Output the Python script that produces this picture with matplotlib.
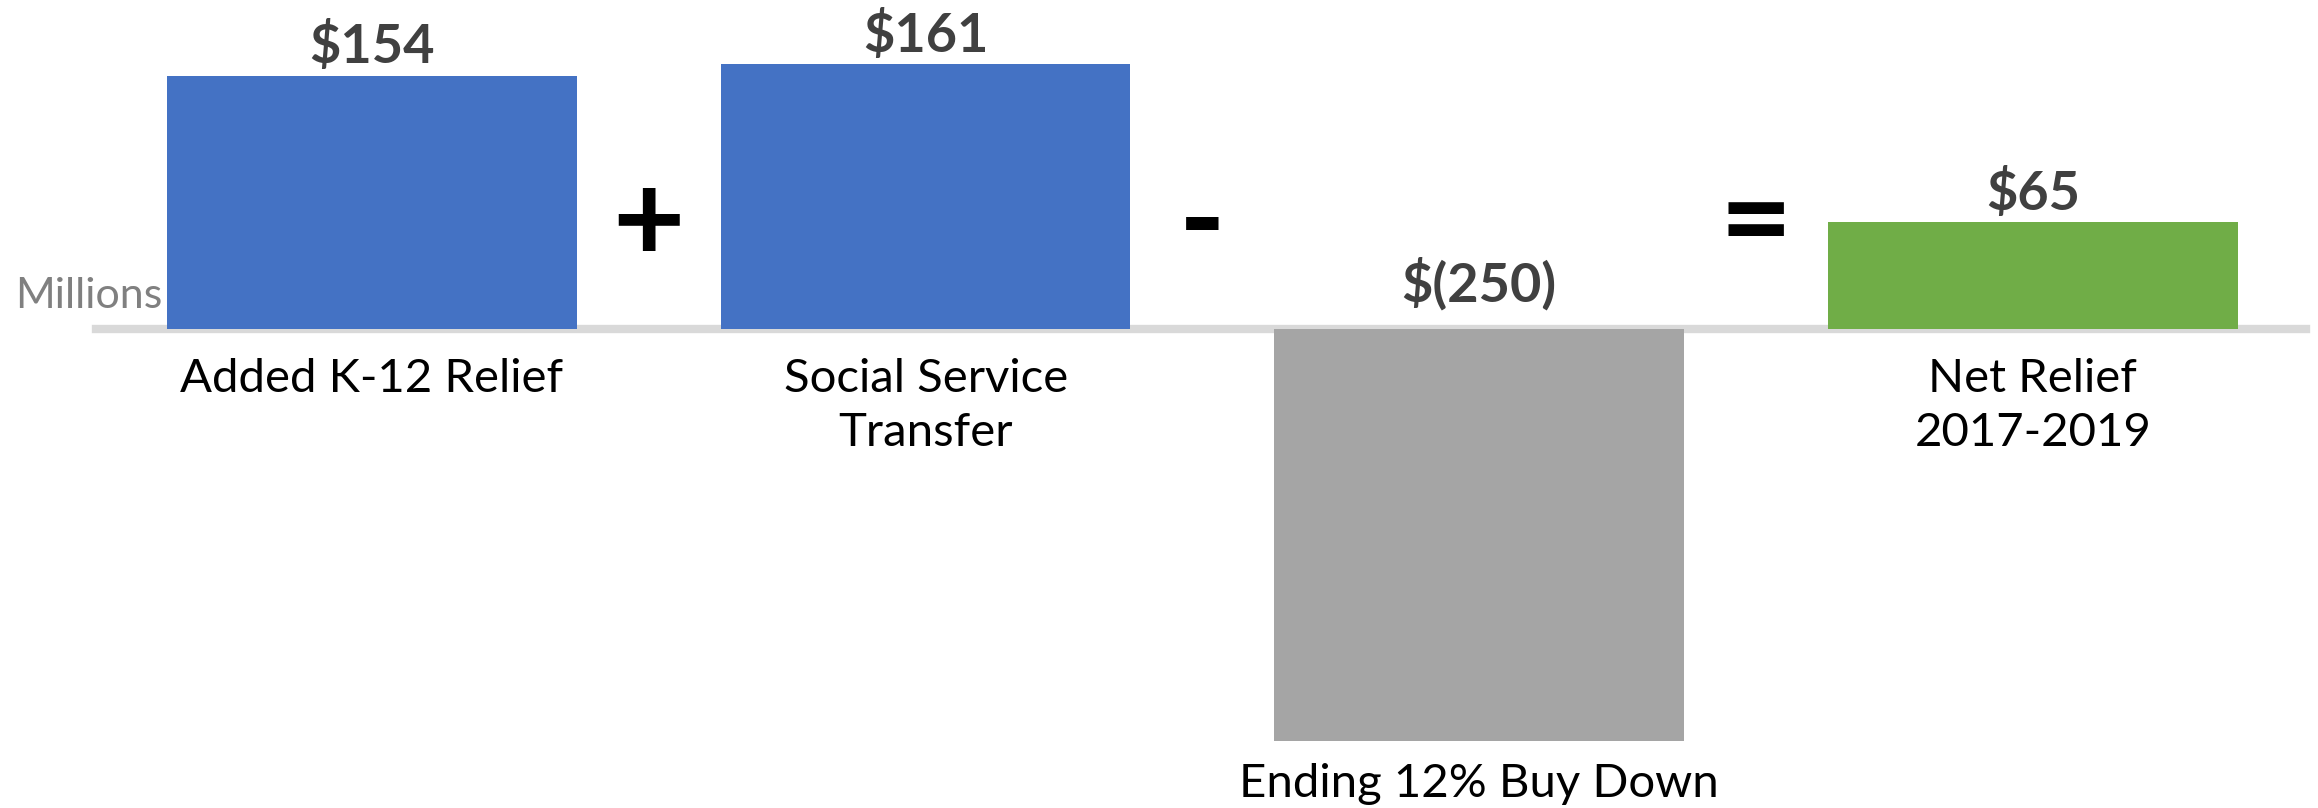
import numpy as np
import matplotlib.pyplot as plt

plt.rcParams['font.family'] = ['Lato', 'DejaVu Sans']

# data
categories = ['Added K-12 Relief', 'Social Service\nTransfer', 'Ending 12% Buy Down', 'Net Relief\n2017-2019']
values = [154, 161, -250, 65]
value_labels = ['$154', '$161', '$(250)', '$65']
operators = ['+', '-', '=']
bar_colors = ['#4472C4', '#4472C4', '#A5A5A5', '#70AD47']

fig = plt.figure(figsize=(23.18, 8.08), dpi=100)
ax = fig.add_axes([0, 0, 1, 1])

x = np.arange(len(values))
ax.axhline(0, xmin=96/2318, xmax=2306/2318, color='#D9D9D9', linewidth=6, zorder=1)
ax.bar(x, values, width=0.74, color=bar_colors, zorder=2)

ax.set_xlim(-0.672, 3.515)
ax.set_ylim(-291, 200)
ax.axis('off')

# value labels (above the bar, or above the baseline for the negative one)
for xi, v, lab in zip(x, values, value_labels):
    off = 9 if v > 0 else 20
    ax.annotate(lab, (xi, max(v, 0)), xytext=(0, off), textcoords='offset points',
                ha='center', va='baseline', fontsize=39, fontweight='bold', color='#404040')

# category labels (below the baseline, or below the bar for the negative one)
for xi, v, cat in zip(x, values, categories):
    off = -21 if v > 0 else -16
    ax.annotate(cat, (xi, min(v, 0)), xytext=(0, off), textcoords='offset points',
                ha='center', va='top', fontsize=34, color='black', linespacing=1.35)

# operators between bars
for i, op in enumerate(operators):
    ax.text(i + 0.5, 63, op, ha='center', va='center', fontsize=90, fontweight='bold', color='black')

fig.text(162/2318, 1 - 308/808, 'Millions', ha='right', va='baseline', fontsize=31, color='#808080')

fig.savefig('out.png', dpi=100)
